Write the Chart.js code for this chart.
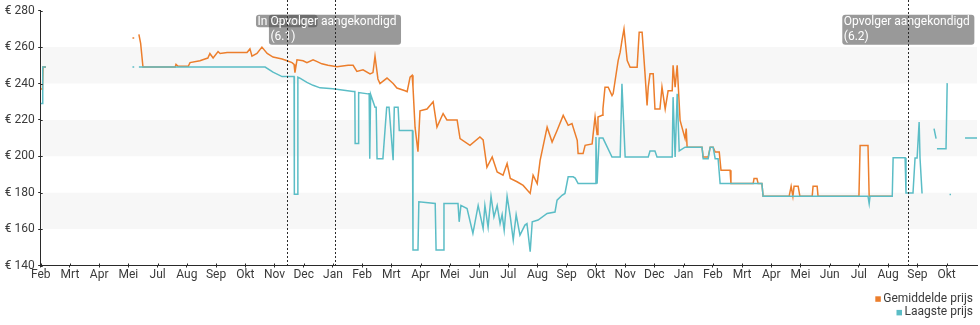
<!DOCTYPE html>
<html>
<head>
<meta charset="utf-8">
<script src="https://cdn.jsdelivr.net/npm/chart.js@4.4.1/dist/chart.umd.min.js"></script>
<style>
  html, body { margin: 0; padding: 0; background: #fff; }
  #wrap { width: 980px; height: 325px; }
</style>
</head>
<body>
<div id="wrap"><canvas id="chart" width="980" height="325"></canvas></div>
<script>
// Month labels along the time axis (one tick per month position)
const monthLabels = ['Feb','Mrt','Apr','Mei','Jul','Aug','Sep','Okt','Nov','Dec','Jan',
  'Feb','Mrt','Apr','Mei','Jun','Jul','Aug','Sep','Okt','Nov','Dec','Jan',
  'Feb','Mrt','Apr','Mei','Jun','Jul','Aug','Sep','Okt'];

// Price ticks in euro
const priceTicks = [140, 160, 180, 200, 220, 240, 260, 280];

// [month position, price]; a null price marks a gap in the history
const avgPrice = [
  [0.00,237],[0.06,237],[0.08,249],[0.18,249],[0.19,null],
  [3.14,265],[3.20,265],[3.21,null],
  [3.36,267],[3.42,262],[3.50,249],[4.60,249],[4.63,250.5],[4.70,249.5],[5.05,249.5],[5.11,251.5],
  [5.45,252.5],[5.62,253.5],[5.72,254],[5.79,256.5],[5.90,254],[6.07,257.5],[6.14,256.5],[6.38,257],
  [7.06,257],[7.16,259],[7.23,255],[7.40,256.5],[7.57,260],[7.75,256.5],[7.95,254.5],[8.26,253.5],
  [8.43,252.5],[8.60,251.5],[8.67,250.5],[8.70,246],[8.77,253],[8.98,252.5],[9.11,251.5],[9.32,253],
  [9.46,252],[9.62,250.8],[9.83,250],[10.14,249.2],[10.52,250],[10.69,250],[10.82,246.6],[11.03,247.5],
  [11.27,245.3],[11.37,246],[11.44,255],[11.54,242.5],[11.61,240],[11.85,243],[12.06,240],[12.19,237.5],
  [12.47,236],[12.54,235.5],[12.64,243.5],[12.71,244.5],[12.74,238],[12.81,216],[12.91,202.5],[12.98,225],
  [13.22,226],[13.43,230],[13.56,216],[13.77,223.5],[13.90,220],[14.25,220],[14.35,209.7],[14.69,206],
  [15.03,210.6],[15.14,209],[15.27,194],[15.45,199.6],[15.62,191.4],[15.82,189.6],[15.96,196],[16.07,187.8],
  [16.30,186],[16.51,184],[16.75,179.6],[16.85,189.6],[16.99,185],[17.09,197.8],[17.33,216],[17.50,207.8],
  [17.67,214.2],[17.88,222.5],[18.05,217],[18.18,218],[18.36,208.8],[18.39,201.5],[18.56,201.5],[18.63,206],
  [18.87,206.8],[18.90,211.5],[18.97,221.6],[19.04,212],[19.07,221.6],[19.21,222.5],[19.24,226.1],[19.31,238],
  [19.42,238],[19.55,233.4],[19.59,234.5],[19.76,252.6],[19.83,257.2],[19.89,263.6],[19.96,270],[20.07,252.6],
  [20.17,248.9],[20.41,248.9],[20.48,268.1],[20.58,268.1],[20.68,245.3],[20.75,228],[20.79,238],[20.85,245.3],
  [20.96,245.3],[21.02,226],[21.19,226],[21.26,238],[21.37,226],[21.47,236],[21.61,236],[21.64,250],
  [21.71,238],[21.78,250],[21.88,219.7],[22.05,209.7],[22.09,215.2],[22.12,205],[22.63,205],[22.67,199.6],
  [22.84,199.6],[22.91,205],[23.01,205],[23.08,202.4],[23.22,202.4],[23.28,192.3],[23.59,192.3],[23.62,185],
  [24.38,185],[24.41,187.8],[24.51,187.8],[24.55,185],[24.68,185],[24.72,178],[25.61,178],[25.68,183.5],
  [25.74,178],[25.78,183.5],[25.92,183.5],[25.98,178],[26.40,178],[26.43,183.5],[26.57,183.5],[26.60,178],
  [28.00,178],[28.04,206],[28.31,206],[28.35,178],[29.14,178]
];

const lowPrice = [
  [0.00,229],[0.05,229],[0.07,249],[0.18,249],[0.19,null],
  [3.14,249],[3.20,249],[3.21,null],
  [3.36,249],[7.68,249],[7.95,246.2],[8.26,243.8],[8.67,243.8],[8.68,179.2],[8.79,179.2],[8.80,243.5],
  [8.87,243],[9.11,240.6],[9.32,239],[9.56,237.6],[10.00,237.1],[10.69,235.6],[10.75,235.6],[10.76,207],
  [10.86,207],[10.88,235],[11.20,234.3],[11.24,234.3],[11.26,198.7],[11.29,234],[11.44,227],[11.48,227],
  [11.51,198.7],[11.71,198.7],[11.84,227],[11.92,227],[12.06,197.8],[12.10,227],[12.23,227],[12.27,214.2],
  [12.72,214.2],[12.74,148.5],[12.91,148.5],[12.94,175],[13.50,174.1],[13.53,148.5],[13.77,148.5],[13.80,174.1],
  [14.28,174.1],[14.32,164],[14.38,173],[14.59,171.3],[14.79,157.6],[14.97,173],[15.14,160.3],[15.20,173],
  [15.31,161],[15.41,178],[15.51,166.7],[15.62,173],[15.72,163],[15.79,168],[15.86,159.4],[15.96,178],
  [16.07,166.7],[16.17,154],[16.27,168],[16.40,156.7],[16.57,162.2],[16.64,163],[16.75,147.6],[16.82,164],
  [17.02,165],[17.33,168.6],[17.60,169.4],[17.67,175.9],[17.84,178.6],[17.94,179.6],[18.05,188.7],[18.22,188.7],
  [18.29,188],[18.39,185],[18.97,185],[19.00,210.6],[19.04,185],[19.11,210],[19.24,210],[19.55,199.6],
  [19.83,199.6],[19.89,239.8],[20.00,199.6],[20.79,199.6],[20.85,202.9],[21.02,202.9],[21.09,199.6],[21.61,199.6],
  [21.64,232.5],[21.71,199.6],[21.78,234.3],[21.85,203],[22.05,205],[22.63,205],[22.67,198.7],[22.84,198.7],
  [22.91,205],[23.01,205],[23.08,198.7],[23.18,198.7],[23.25,185],[24.68,185],[24.72,178.1],[28.31,178.1],
  [28.35,174],[28.38,178.1],[29.14,178.1],[29.17,199.2],[29.58,199.2],[29.61,179.8],[29.85,179.8],[29.92,199.1],
  [29.99,199.1],[30.06,218.8],[30.09,199.1],[30.16,179.6],[30.17,null],
  [30.57,215.2],[30.64,209.7],[30.65,null],
  [30.67,204.2],[30.98,204.2],[31.02,240.2],[31.03,null],
  [31.10,179],[31.15,179],[31.16,null],
  [31.63,210],[32.04,210]
];

// Marked moments in the product's life
const eventPositions = [8.42, 10.07, 29.69];
const eventTexts = [['In verkoop'], ['Opvolger aangekondigd', '(6.1)'], ['Opvolger aangekondigd', '(6.2)']];

const ORANGE = '#ec7e2c';
const TEAL = '#5bbdc6';
const TEXT = '#3a3a3a';
const AXIS = '#2a2a2a';
const BAND = '#f7f7f7';

const toPoints = rows => rows.map(([x, y]) => ({ x, y }));

// Alternating horizontal bands behind the lines
const bandsPlugin = {
  id: 'priceBands',
  beforeDraw(chart) {
    const { ctx, chartArea: a, scales: { y } } = chart;
    ctx.save();
    ctx.fillStyle = BAND;
    for (let i = 1; i + 1 < priceTicks.length; i += 2) {
      const top = y.getPixelForValue(priceTicks[i + 1]);
      const bottom = y.getPixelForValue(priceTicks[i]);
      ctx.fillRect(a.left + 1, top, a.right - a.left - 1, bottom - top);
    }
    ctx.restore();
  }
};

// Short inner halves of the tick marks, so they cross the axis lines
const innerTicksPlugin = {
  id: 'innerTicks',
  afterDatasetsDraw(chart) {
    const { ctx, chartArea: a, scales: { x, y } } = chart;
    ctx.save();
    ctx.strokeStyle = AXIS;
    ctx.lineWidth = 1;
    ctx.beginPath();
    x.ticks.forEach(t => {
      const px = Math.round(x.getPixelForValue(t.value)) + 0.5;
      ctx.moveTo(px, a.bottom);
      ctx.lineTo(px, a.bottom - 2);
    });
    y.ticks.forEach(t => {
      const py = Math.round(y.getPixelForValue(t.value)) + 0.5;
      ctx.moveTo(a.left, py);
      ctx.lineTo(a.left + 2, py);
    });
    ctx.stroke();
    ctx.restore();
  }
};

function roundedBox(ctx, x, y, w, h, r) {
  ctx.beginPath();
  ctx.moveTo(x + r, y);
  ctx.lineTo(x + w - r, y);
  ctx.quadraticCurveTo(x + w, y, x + w, y + r);
  ctx.lineTo(x + w, y + h - r);
  ctx.quadraticCurveTo(x + w, y + h, x + w - r, y + h);
  ctx.lineTo(x + r, y + h);
  ctx.quadraticCurveTo(x, y + h, x, y + h - r);
  ctx.lineTo(x, y + r);
  ctx.quadraticCurveTo(x, y, x + r, y);
  ctx.closePath();
}

// Dotted event lines with their captions
const eventsPlugin = {
  id: 'events',
  afterDatasetsDraw(chart) {
    const { ctx, chartArea: a, scales: { x } } = chart;
    ctx.save();
    ctx.font = '12px Roboto';
    ctx.textBaseline = 'alphabetic';
    ctx.textAlign = 'left';
    eventPositions.forEach((pos, k) => {
      const lines = eventTexts[k];
      const cx = x.getPixelForValue(pos);
      const w = Math.max(...lines.map(t => ctx.measureText(t).width)) + 6;
      const h = lines.length === 1 ? 12.5 : 30;
      const left = cx - w / 2;
      const top = a.top + 4;
      ctx.fillStyle = 'rgba(80,80,80,0.58)';
      roundedBox(ctx, left, top, w, h, 3);
      ctx.fill();
      ctx.fillStyle = '#ffffff';
      lines.forEach((t, i) => ctx.fillText(t, left + 1.5, top + 10.5 + i * 15));
    });
    ctx.setLineDash([2, 2]);
    ctx.strokeStyle = AXIS;
    ctx.lineWidth = 1;
    eventPositions.forEach(pos => {
      const px = Math.round(x.getPixelForValue(pos)) + 0.5;
      ctx.beginPath();
      ctx.moveTo(px, 0);
      ctx.lineTo(px, a.bottom);
      ctx.stroke();
    });
    ctx.restore();
  }
};

// Stacked legend in the lower right corner
const cornerLegendPlugin = {
  id: 'cornerLegend',
  afterDraw(chart) {
    const { ctx, chartArea: a } = chart;
    ctx.save();
    ctx.font = '12px Roboto';
    ctx.textAlign = 'right';
    ctx.textBaseline = 'alphabetic';
    const right = chart.width - 7;
    chart.data.datasets.forEach((ds, i) => {
      const baseline = a.bottom + 36.3 + i * 13.6;
      const tw = ctx.measureText(ds.label).width;
      ctx.fillStyle = TEXT;
      ctx.fillText(ds.label, right, baseline);
      ctx.fillStyle = ds.borderColor;
      ctx.fillRect(right - tw - 8, baseline - 5.5, 5.5, 5.5);
    });
    ctx.restore();
  }
};

Chart.defaults.font.family = 'Roboto';
Chart.defaults.font.size = 12;
Chart.defaults.color = TEXT;

new Chart(document.getElementById('chart'), {
  type: 'line',
  data: {
    datasets: [
      { label: 'Gemiddelde prijs', data: toPoints(avgPrice), borderColor: ORANGE, backgroundColor: ORANGE, order: 2 },
      { label: 'Laagste prijs', data: toPoints(lowPrice), borderColor: TEAL, backgroundColor: TEAL, order: 1 }
    ]
  },
  options: {
    responsive: false,
    devicePixelRatio: 1,
    animation: false,
    spanGaps: false,
    elements: {
      point: { radius: 0, hoverRadius: 0 },
      line: { borderWidth: 1.5, tension: 0 }
    },
    layout: { padding: { top: 10, right: 3, left: 0, bottom: 0 } },
    plugins: {
      legend: { display: false },
      tooltip: { enabled: false }
    },
    scales: {
      x: {
        type: 'linear',
        min: 0,
        max: 32.04,
        afterBuildTicks: s => { s.ticks = monthLabels.map((_, i) => ({ value: i })); },
        afterFit: s => { s.height = 59.5; },
        grid: { drawOnChartArea: false, drawTicks: true, tickLength: 2, color: AXIS },
        border: { display: true, color: AXIS, width: 1 },
        ticks: {
          callback: v => monthLabels[v] ?? '',
          autoSkip: false,
          maxRotation: 0,
          padding: 0,
          color: TEXT
        }
      },
      y: {
        min: 140,
        max: 280,
        afterBuildTicks: s => { s.ticks = priceTicks.map(v => ({ value: v })); },
        afterFit: s => { s.width = 40.7; },
        grid: { drawOnChartArea: false, drawTicks: true, tickLength: 2.5, color: AXIS },
        border: { display: true, color: AXIS, width: 1 },
        ticks: { callback: v => '€ ' + v, padding: 3.5, color: TEXT }
      }
    }
  },
  plugins: [bandsPlugin, innerTicksPlugin, eventsPlugin, cornerLegendPlugin]
});
</script>
</body>
</html>
